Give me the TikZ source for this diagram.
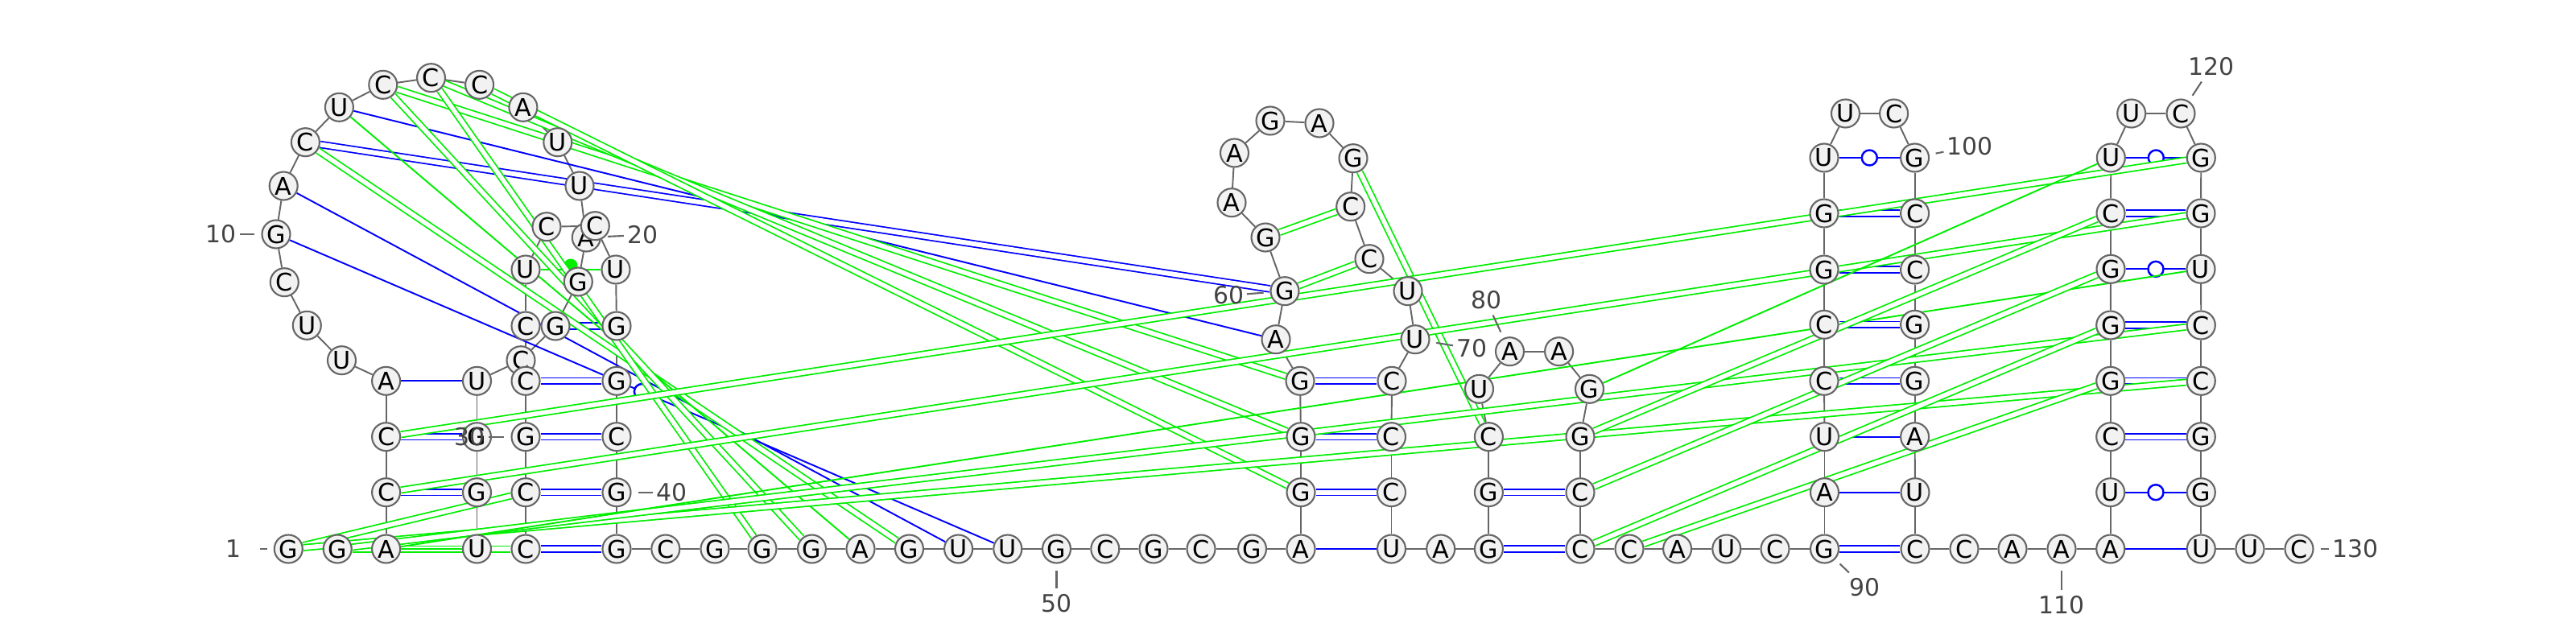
\documentclass[tikz,border=0pt]{standalone}
\usepackage{fontspec}
\setmainfont{DejaVu Sans}
\usetikzlibrary{calc}
\pgfdeclarelayer{bg}
\pgfsetlayers{bg,main}
\definecolor{bbgrey}{HTML}{666666}
\definecolor{ntfill}{HTML}{F2F2F2}
\definecolor{numgrey}{HTML}{444444}
\definecolor{pairblue}{HTML}{0000FF}
\definecolor{altgreen}{HTML}{00EE00}
\tikzset{
    every node/.style={circle, inner sep=0mm, draw=bbgrey, fill=ntfill, line width=0.6pt, minimum size=3.5mm, font=\fontsize{8.6}{8}\selectfont}
}
\tikzset{num/.style={shape=rectangle, draw=none, fill=none, inner sep=0.3mm, text=numgrey, font=\fontsize{8.5}{8}\selectfont}}
\tikzset{tick/.style={bbgrey, line width=0.6pt, shorten >=0.8mm}}
\tikzset{bb/.style={bbgrey, line width=0.55pt}}
\tikzset{au/.style={pairblue, line width=0.55pt}}
\tikzset{gc/.style={draw=pairblue, double=white, double distance=0.6mm, line width=0.5pt}}
\tikzset{wob/.style={circle, draw=pairblue, fill=white, line width=0.7pt, minimum size=1.9mm}}
\tikzset{alt/.style={altgreen, line width=0.55pt}}
\tikzset{altd/.style={draw=altgreen, double=white, double distance=0.55mm, line width=0.5pt}}
\tikzset{dot/.style={circle, draw=none, fill=altgreen, minimum size=1.7mm, yshift=0.5mm}}

\begin{document}
\begin{tikzpicture}
        \useasboundingbox (0cm, 0cm) rectangle (32cm, 7.78cm);
        \node (n1) at (3.583cm, 0.960cm) {G};
        \node (n2) at (4.192cm, 0.960cm) {G};
        \node (n3) at (4.796cm, 0.960cm) {A};
        \node (n4) at (4.796cm, 1.663cm) {C};
        \node (n5) at (4.796cm, 2.353cm) {C};
        \node (n6) at (4.796cm, 3.047cm) {A};
        \node (n7) at (4.245cm, 3.303cm) {U};
        \node (n8) at (3.813cm, 3.737cm) {U};
        \node (n9) at (3.533cm, 4.273cm) {C};
        \node (n10) at (3.430cm, 4.870cm) {G};
        \node (n11) at (3.522cm, 5.470cm) {A};
        \node (n12) at (3.794cm, 6.013cm) {C};
        \node (n13) at (4.214cm, 6.447cm) {U};
        \node (n14) at (4.758cm, 6.727cm) {C};
        \node (n15) at (5.355cm, 6.813cm) {C};
        \node (n16) at (5.956cm, 6.727cm) {C};
        \node (n17) at (6.499cm, 6.447cm) {A};
        \node (n18) at (6.928cm, 6.013cm) {U};
        \node (n19) at (7.200cm, 5.470cm) {U};
        \node (n20) at (7.283cm, 4.830cm) {A};
        \node (n21) at (7.183cm, 4.280cm) {G};
        \node (n22) at (6.900cm, 3.730cm) {G};
        \node (n23) at (6.470cm, 3.303cm) {C};
        \node (n24) at (5.925cm, 3.047cm) {U};
        \node (n25) at (5.925cm, 2.353cm) {G};
        \node (n26) at (5.925cm, 1.663cm) {G};
        \node (n27) at (5.925cm, 0.960cm) {U};
        \node (n28) at (6.530cm, 0.960cm) {C};
        \node (n29) at (6.530cm, 1.663cm) {C};
        \node (n30) at (6.530cm, 2.353cm) {G};
        \node (n31) at (6.530cm, 3.047cm) {C};
        \node (n32) at (6.530cm, 3.730cm) {C};
        \node (n33) at (6.530cm, 4.430cm) {U};
        \node (n34) at (6.790cm, 4.963cm) {C};
        \node (n35) at (7.393cm, 4.973cm) {C};
        \node (n36) at (7.650cm, 4.430cm) {U};
        \node (n37) at (7.660cm, 3.730cm) {G};
        \node (n38) at (7.660cm, 3.047cm) {G};
        \node (n39) at (7.660cm, 2.353cm) {C};
        \node (n40) at (7.660cm, 1.663cm) {G};
        \node (n41) at (7.660cm, 0.960cm) {G};
        \node (n42) at (8.268cm, 0.960cm) {C};
        \node (n43) at (8.880cm, 0.960cm) {G};
        \node (n44) at (9.470cm, 0.960cm) {G};
        \node (n45) at (10.085cm, 0.960cm) {G};
        \node (n46) at (10.690cm, 0.960cm) {A};
        \node (n47) at (11.295cm, 0.960cm) {G};
        \node (n48) at (11.906cm, 0.960cm) {U};
        \node (n49) at (12.518cm, 0.960cm) {U};
        \node (n50) at (13.125cm, 0.960cm) {G};
        \node (n51) at (13.728cm, 0.960cm) {C};
        \node (n52) at (14.330cm, 0.960cm) {G};
        \node (n53) at (14.920cm, 0.960cm) {C};
        \node (n54) at (15.555cm, 0.960cm) {G};
        \node (n55) at (16.160cm, 0.960cm) {A};
        \node (n56) at (16.160cm, 1.663cm) {G};
        \node (n57) at (16.160cm, 2.353cm) {G};
        \node (n58) at (16.150cm, 3.047cm) {G};
        \node (n59) at (15.850cm, 3.563cm) {A};
        \node (n60) at (15.960cm, 4.163cm) {G};
        \node (n61) at (15.720cm, 4.830cm) {G};
        \node (n62) at (15.300cm, 5.263cm) {A};
        \node (n63) at (15.335cm, 5.880cm) {A};
        \node (n64) at (15.780cm, 6.280cm) {G};
        \node (n65) at (16.390cm, 6.250cm) {A};
        \node (n66) at (16.810cm, 5.813cm) {G};
        \node (n67) at (16.777cm, 5.213cm) {C};
        \node (n68) at (17.010cm, 4.563cm) {C};
        \node (n69) at (17.490cm, 4.163cm) {U};
        \node (n70) at (17.580cm, 3.563cm) {U};
        \node (n71) at (17.290cm, 3.047cm) {C};
        \node (n72) at (17.285cm, 2.353cm) {C};
        \node (n73) at (17.285cm, 1.663cm) {C};
        \node (n74) at (17.285cm, 0.960cm) {U};
        \node (n75) at (17.897cm, 0.960cm) {A};
        \node (n76) at (18.494cm, 0.960cm) {G};
        \node (n77) at (18.494cm, 1.663cm) {G};
        \node (n78) at (18.494cm, 2.353cm) {C};
        \node (n79) at (18.375cm, 2.947cm) {U};
        \node (n80) at (18.755cm, 3.413cm) {A};
        \node (n81) at (19.366cm, 3.413cm) {A};
        \node (n82) at (19.745cm, 2.947cm) {G};
        \node (n83) at (19.630cm, 2.353cm) {G};
        \node (n84) at (19.630cm, 1.663cm) {C};
        \node (n85) at (19.630cm, 0.960cm) {C};
        \node (n86) at (20.240cm, 0.960cm) {C};
        \node (n87) at (20.836cm, 0.960cm) {A};
        \node (n88) at (21.448cm, 0.960cm) {U};
        \node (n89) at (22.050cm, 0.960cm) {C};
        \node (n90) at (22.665cm, 0.960cm) {G};
        \node (n91) at (22.665cm, 1.663cm) {A};
        \node (n92) at (22.665cm, 2.353cm) {U};
        \node (n93) at (22.660cm, 3.047cm) {C};
        \node (n94) at (22.660cm, 3.747cm) {C};
        \node (n95) at (22.660cm, 4.430cm) {G};
        \node (n96) at (22.660cm, 5.130cm) {G};
        \node (n97) at (22.660cm, 5.820cm) {U};
        \node (n98) at (22.925cm, 6.370cm) {U};
        \node (n99) at (23.526cm, 6.370cm) {C};
        \node (n100) at (23.786cm, 5.820cm) {G};
        \node (n101) at (23.786cm, 5.130cm) {C};
        \node (n102) at (23.786cm, 4.430cm) {C};
        \node (n103) at (23.786cm, 3.747cm) {G};
        \node (n104) at (23.786cm, 3.047cm) {G};
        \node (n105) at (23.786cm, 2.353cm) {A};
        \node (n106) at (23.790cm, 1.663cm) {U};
        \node (n107) at (23.790cm, 0.960cm) {C};
        \node (n108) at (24.400cm, 0.960cm) {C};
        \node (n109) at (25.000cm, 0.960cm) {A};
        \node (n110) at (25.610cm, 0.960cm) {A};
        \node (n111) at (26.217cm, 0.960cm) {A};
        \node (n112) at (26.217cm, 1.663cm) {U};
        \node (n113) at (26.217cm, 2.353cm) {C};
        \node (n114) at (26.217cm, 3.047cm) {G};
        \node (n115) at (26.217cm, 3.740cm) {G};
        \node (n116) at (26.220cm, 4.437cm) {G};
        \node (n117) at (26.220cm, 5.130cm) {C};
        \node (n118) at (26.223cm, 5.820cm) {U};
        \node (n119) at (26.477cm, 6.370cm) {U};
        \node (n120) at (27.090cm, 6.370cm) {C};
        \node (n121) at (27.343cm, 5.820cm) {G};
        \node (n122) at (27.340cm, 5.130cm) {G};
        \node (n123) at (27.340cm, 4.437cm) {U};
        \node (n124) at (27.343cm, 3.740cm) {C};
        \node (n125) at (27.343cm, 3.047cm) {C};
        \node (n126) at (27.343cm, 2.353cm) {G};
        \node (n127) at (27.343cm, 1.663cm) {G};
        \node (n128) at (27.343cm, 0.960cm) {U};
        \node (n129) at (27.950cm, 0.960cm) {U};
        \node (n130) at (28.560cm, 0.960cm) {C};
        % numbering
        \node[num] (l1) at (2.900cm, 0.960cm) {1};
        \node[num] (l10) at (2.750cm, 4.870cm) {10};
        \node[num] (l20) at (7.980cm, 4.860cm) {20};
        \node[num] (l30) at (5.840cm, 2.353cm) {30};
        \node[num] (l40) at (8.340cm, 1.663cm) {40};
        \node[num] (l50) at (13.125cm, 0.280cm) {50};
        \node[num] (l60) at (15.260cm, 4.110cm) {60};
        \node[num] (l70) at (18.280cm, 3.450cm) {70};
        \node[num] (l80) at (18.460cm, 4.050cm) {80};
        \node[num] (l90) at (23.160cm, 0.480cm) {90};
        \node[num] (l100) at (24.470cm, 5.960cm) {100};
        \node[num] (l110) at (25.610cm, 0.260cm) {110};
        \node[num] (l120) at (27.470cm, 6.950cm) {120};
        \node[num] (l130) at (29.260cm, 0.960cm) {130};
        \draw[tick, shorten <=1.4mm] (l1) -- (n1);
        \foreach \k in {10,20,...,130}
                \draw[tick] (l\k) -- (n\k);
        \begin{pgfonlayer}{bg}
                % backbone
                \foreach \i [evaluate=\i as \j using int(\i+1)] in {1,...,129}
                        \draw (n\i) edge [bb] (n\j);
                % structure
                \draw (n4) edge [gc] (n26);
                \draw (n5) edge [gc] (n25);
                \draw (n6) edge [au] (n24);
                \draw (n28) edge [gc] (n41);
                \draw (n29) edge [gc] (n40);
                \draw (n30) edge [gc] (n39);
                \draw (n31) edge [gc] (n38);
                \draw (n32) edge [gc] (n37);
                \draw (n10) edge [au] node [wob] {} (n49);
                \draw (n11) edge [au] (n48);
                \draw (n12) edge [gc] (n60);
                \draw (n13) edge [au] (n59);
                \draw (n55) edge [au] (n74);
                \draw (n56) edge [gc] (n73);
                \draw (n57) edge [gc] (n72);
                \draw (n58) edge [gc] (n71);
                \draw (n76) edge [gc] (n85);
                \draw (n77) edge [gc] (n84);
                \draw (n90) edge [gc] (n107);
                \draw (n91) edge [au] (n106);
                \draw (n92) edge [au] (n105);
                \draw (n93) edge [gc] (n104);
                \draw (n94) edge [gc] (n103);
                \draw (n95) edge [gc] (n102);
                \draw (n96) edge [gc] (n101);
                \draw (n97) edge [au] node [wob] {} (n100);
                \draw (n111) edge [au] (n128);
                \draw (n112) edge [au] node [wob] {} (n127);
                \draw (n113) edge [gc] (n126);
                \draw (n114) edge [gc] (n125);
                \draw (n115) edge [gc] (n124);
                \draw (n116) edge [au] node [wob] {} (n123);
                \draw (n117) edge [gc] (n122);
                \draw (n118) edge [au] node [wob] {} (n121);
                % alternative pairs
                \draw (n33) edge [alt] node [dot] {} (n36);
                \draw (n1) edge [altd] (n29);
                \draw (n2) edge [altd] (n28);
                \draw (n3) edge [alt] (n27);
                \draw (n14) edge [altd] (n58);
                \draw (n15) edge [altd] (n57);
                \draw (n16) edge [altd] (n56);
                \draw (n12) edge [altd] (n47);
                \draw (n13) edge [alt] (n46);
                \draw (n14) edge [altd] (n45);
                \draw (n15) edge [altd] (n44);
                \draw (n60) edge [altd] (n68);
                \draw (n61) edge [altd] (n67);
                \draw (n66) edge [altd] (n78);
                \draw (n1) edge [altd] (n125);
                \draw (n2) edge [altd] (n124);
                \draw (n3) edge [alt] (n123);
                \draw (n4) edge [altd] (n122);
                \draw (n5) edge [altd] (n121);
                \draw (n82) edge [alt] (n118);
                \draw (n83) edge [altd] (n117);
                \draw (n84) edge [altd] (n116);
                \draw (n85) edge [altd] (n115);
                \draw (n86) edge [altd] (n114);
        \end{pgfonlayer}
\end{tikzpicture}
\end{document}
